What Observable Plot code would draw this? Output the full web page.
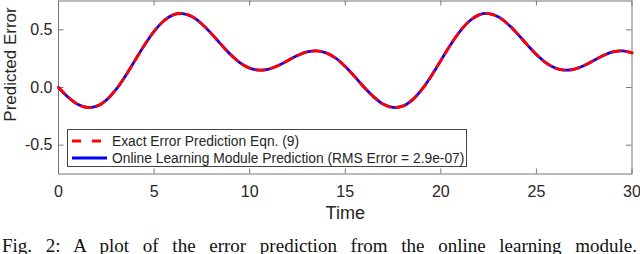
<!DOCTYPE html>
<html><head><meta charset="utf-8">
<script src="https://cdn.jsdelivr.net/npm/d3@7"></script>
<script src="https://cdn.jsdelivr.net/npm/@observablehq/plot@0.6"></script>
<style>
body{margin:0;background:#fff;}
#wrap{position:relative;width:640px;height:254px;overflow:hidden;font-family:"Liberation Sans",Arial,sans-serif;color:#262626;}
#legend{position:absolute;left:67px;top:129px;width:400px;height:38px;border:1px solid #444;background:#fff;box-sizing:border-box;}
.row{position:absolute;left:0;height:18px;display:flex;align-items:center;font-size:13.8px;white-space:nowrap;}
.row svg{margin-left:4px;margin-right:5px;}
#caption{position:absolute;left:2px;top:236px;width:635px;font-family:"Liberation Serif","Times New Roman",serif;font-size:19px;line-height:20px;text-align:justify;text-align-last:justify;color:#111;white-space:normal;}
</style></head><body>
<div id="wrap"></div>
<script>
const time = [0,0.5,1,1.5,2,2.5,3,3.5,4,4.5,5,5.5,6,6.5,7,7.5,8,8.5,9,9.5,10,10.5,11,11.5,12,12.5,13,13.5,14,14.5,15,15.5,
  16,16.5,17,17.5,18,18.5,19,19.5,20,20.5,21,21.5,22,22.5,23,23.5,24,24.5,25,25.5,26,26.5,27,27.5,28,28.5,29,29.5,30];
const exactError = [0.000,-0.083,-0.145,-0.173,-0.162,-0.109,-0.019,0.100,0.234,0.368,0.487,0.577,0.630,0.641,0.613,0.551,
  0.467,0.374,0.286,0.214,0.168,0.150,0.160,0.191,0.234,0.277,0.308,0.318,0.300,0.254,0.182,0.094,
  0.000,-0.083,-0.145,-0.173,-0.162,-0.109,-0.019,0.100,0.234,0.368,0.487,0.577,0.630,0.641,0.613,0.551,
  0.467,0.374,0.286,0.214,0.168,0.150,0.160,0.191,0.234,0.277,0.308,0.318,0.300];
const onlinePrediction = [0.000,-0.083,-0.145,-0.173,-0.162,-0.109,-0.019,0.100,0.234,0.368,0.487,0.577,0.630,0.641,0.613,0.551,
  0.467,0.374,0.286,0.214,0.168,0.150,0.160,0.191,0.234,0.277,0.308,0.318,0.300,0.254,0.182,0.094,
  0.000,-0.083,-0.145,-0.173,-0.162,-0.109,-0.019,0.100,0.234,0.368,0.487,0.577,0.630,0.641,0.613,0.551,
  0.467,0.374,0.286,0.214,0.168,0.150,0.160,0.191,0.234,0.277,0.308,0.318,0.300];
const xTicks = [0,5,10,15,20,25,30];
const yTicks = [-0.5,0,0.5];
const xDomain = [0,30];
const yDomain = [-0.75,0.75];
const xLabel = "Time";
const yLabel = "Predicted Error";
const legendLabels = ["Exact Error Prediction Eqn. (9)","Online Learning Module Prediction (RMS Error = 2.9e-07)"];
const captionText = "Fig. 2: A plot of the error prediction from the online learning module.";

const exactData = time.map((t,i)=>({t, v: exactError[i]}));
const onlineData = time.map((t,i)=>({t, v: onlinePrediction[i]}));
const RED = "#ff0000", BLUE = "#0000ff", AX = "#777";

const chart = Plot.plot({
  width: 640, height: 228,
  marginLeft: 58, marginRight: 8.5, marginTop: 0.5, marginBottom: 54.5,
  style: {fontFamily: "Liberation Sans, Arial, sans-serif", color: "#262626", background: "#fff"},
  x: {domain: xDomain},
  y: {domain: yDomain},
  marks: [
    Plot.frame({stroke: AX}),
    Plot.tickX(xTicks, {x: d=>d, insetTop: 168, stroke: AX}),
    Plot.tickX(xTicks, {x: d=>d, insetBottom: 168, stroke: AX}),
    Plot.tickY(yTicks, {y: d=>d, insetRight: 568, stroke: AX}),
    Plot.tickY(yTicks, {y: d=>d, insetLeft: 568, stroke: AX}),
    Plot.axisX(xTicks, {tickSize: 0, tickPadding: 12, fontSize: 16, label: null, fill: "#262626"}),
    Plot.axisY(yTicks, {tickSize: 0, tickPadding: 6, fontSize: 16, label: null, tickFormat: d=>d.toFixed(1), fill: "#262626"}),
    Plot.line(onlineData, {x: "t", y: "v", stroke: BLUE, strokeWidth: 2.8, curve: "catmull-rom"}),
    Plot.line(exactData, {x: "t", y: "v", stroke: RED, strokeWidth: 2.8, strokeDasharray: "9,6", curve: "catmull-rom"}),
    Plot.text([xLabel], {text: d=>d, frameAnchor: "bottom", lineAnchor: "middle", dy: 39.5, fontSize: 18, fill: "#262626"})
  ]
});
const wrap = document.getElementById("wrap");
wrap.appendChild(chart);

// rotated y-axis title
d3.select(chart).append("text")
  .attr("transform", "translate(10.5,64.5) rotate(-90)")
  .attr("text-anchor", "middle")
  .attr("dominant-baseline", "central")
  .attr("font-family", "Liberation Sans, Arial, sans-serif")
  .attr("font-size", 17)
  .attr("fill", "#262626")
  .text(yLabel);

const legend = document.createElement("div");
legend.id = "legend";
const styles = [{stroke: RED, dash: "9,11"}, {stroke: BLUE, dash: null}];
legendLabels.forEach((lab, i) => {
  const row = document.createElement("div");
  row.className = "row";
  row.style.top = (2 + i*17) + "px";
  const s = styles[i];
  row.innerHTML = `<svg width="35" height="10"><line x1="0" x2="35" y1="5" y2="5" stroke="${s.stroke}" stroke-width="2.8" ${s.dash ? `stroke-dasharray="${s.dash}"` : ""}/></svg><span>${lab}</span>`;
  legend.appendChild(row);
});
wrap.appendChild(legend);

const cap = document.createElement("div");
cap.id = "caption";
cap.textContent = captionText;
wrap.appendChild(cap);
</script>
</body></html>
